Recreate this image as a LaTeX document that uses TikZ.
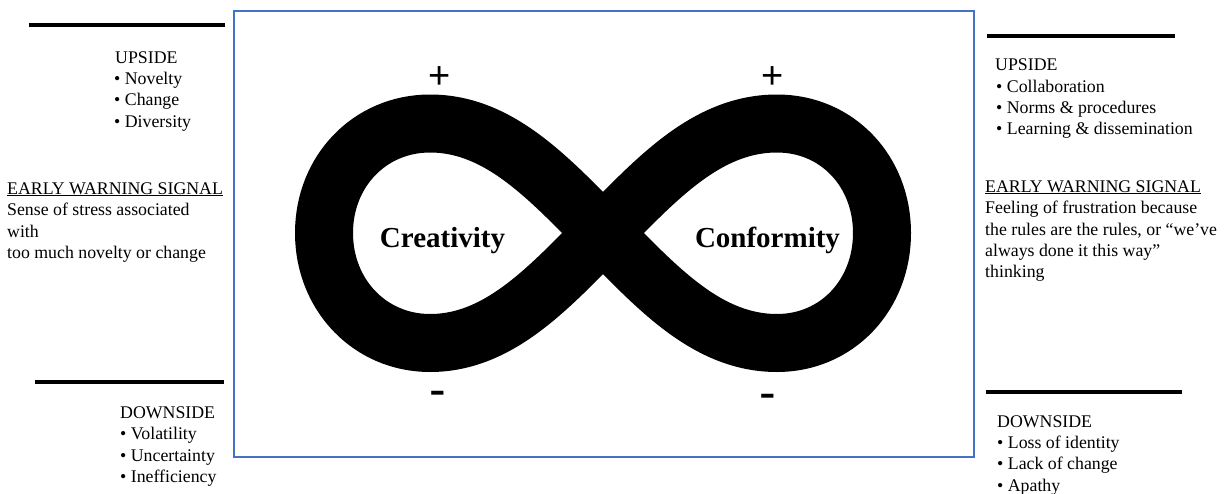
\documentclass[tikz,border=0pt]{standalone}
\usepackage{fontspec}
\setmainfont{Liberation Serif}
\newfontfamily\signfont{Liberation Sans}
\definecolor{boxblue}{RGB}{68,114,196}
\begin{document}
\begin{tikzpicture}[x=1pt,y=-1pt,
  txt/.style={anchor=base west, inner sep=0pt, font=\fontsize{17.8}{21}\selectfont},
  blackrule/.style={line width=4pt, black},
  loopword/.style={anchor=base, inner sep=0pt, font=\fontsize{29}{34}\selectfont\bfseries},
  plussign/.style={anchor=base, inner sep=0pt, font=\signfont\fontsize{38}{40}\selectfont},
  minussign/.style={anchor=base, inner sep=0pt, font=\signfont\fontsize{50}{52}\selectfont}]
\useasboundingbox[fill=white] (0,0) rectangle (1229,493);

% frame
\draw[boxblue, line width=2pt] (234,11) rectangle (974,457);

% infinity loop
\draw[line width=58pt, line cap=round, line join=round] (430,123.5)
  .. controls (370,123.5) and (324,171) .. (324,233)
  .. controls (324,295) and (370,343) .. (430,343)
  .. controls (500,343) and (550,286) .. (603,233)
  .. controls (656,180) and (706,123.5) .. (777,123.5)
  .. controls (837,123.5) and (882,171) .. (882,233)
  .. controls (882,295) and (837,343) .. (777,343)
  .. controls (706,343) and (656,286) .. (603,233)
  .. controls (550,180) and (500,123.5) .. (430,123.5);

\node[loopword] (creat) at (442.5,247) {Creativity};
\node[loopword] (conf) at (767.5,247) {Conformity};
\node[plussign] (plusL) at (440,88) {+};
\node[plussign] (plusR) at (773,88) {+};
\node[minussign] (minusL) at (438,406) {-};
\node[minussign] (minusR) at (768,409) {-};

% left column
\draw[blackrule] (29,25) -- (225,25);
\node[txt] (lu0) at (115,63) {UPSIDE};
\node[txt] (lu1) at (114,84) {• Novelty};
\node[txt] (lu2) at (114,105.5) {• Change};
\node[txt] (lu3) at (114,127) {• Diversity};
\node[txt] (lw0) at (7,194) {\underline{EARLY WARNING SIGNAL}};
\node[txt] (lw1) at (7,215.5) {Sense of stress associated};
\node[txt] (lw2) at (7,237) {with};
\node[txt] (lw3) at (7,258.5) {too much novelty or change};
\draw[blackrule] (35,382) -- (224,382);
\node[txt] (ld0) at (120,418) {DOWNSIDE};
\node[txt] (ld1) at (120,439.5) {• Volatility};
\node[txt] (ld2) at (120,461) {• Uncertainty};
\node[txt] (ld3) at (120,482) {• Inefficiency};

% right column
\draw[blackrule] (987,36) -- (1175,36);
\node[txt] (ru0) at (995,70) {UPSIDE};
\node[txt] (ru1) at (996,92) {• Collaboration};
\node[txt] (ru2) at (996,113) {• Norms \& procedures};
\node[txt] (ru3) at (996,134.5) {• Learning \& dissemination};
\node[txt] (rw0) at (985,192) {\underline{EARLY WARNING SIGNAL}};
\node[txt] (rw1) at (985,213.5) {Feeling of frustration because};
\node[txt] (rw2) at (985,235) {the rules are the rules, or “we’ve};
\node[txt] (rw3) at (985,256) {always done it this way”};
\node[txt] (rw4) at (985,277.5) {thinking};
\draw[blackrule] (986,392) -- (1182,392);
\node[txt] (rd0) at (997,427) {DOWNSIDE};
\node[txt] (rd1) at (997,448) {• Loss of identity};
\node[txt] (rd2) at (997,469.5) {• Lack of change};
\node[txt] (rd3) at (997,491) {• Apathy};
\end{tikzpicture}
\end{document}
